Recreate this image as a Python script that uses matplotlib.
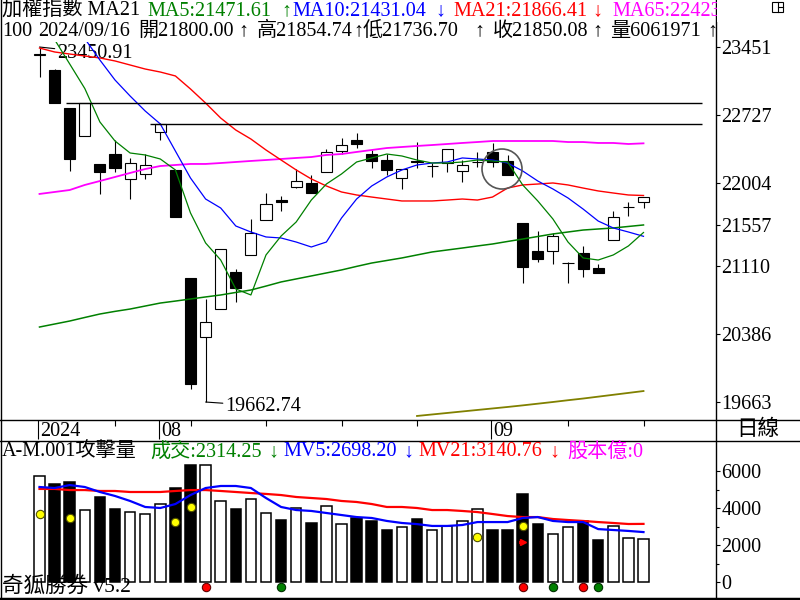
import matplotlib

matplotlib.use("Agg")
import matplotlib.pyplot as plt
import numpy as np
from matplotlib.patches import Ellipse, Rectangle

FONT = ["Liberation Serif", "Noto Sans CJK TC", "DejaVu Sans"]
plt.rcParams["font.family"] = FONT
FS = 14.5

# ---- TAIEX daily candles, 2024/07/11 .. 2024/09/16 (41 sessions) ----
opens = [23370, 23206, 22800, 22501, 22203, 22309, 22043, 22096, 22544, 22139,
         20986, 20357, 20655, 21050, 21232, 21605, 21815, 21957, 21999, 22117,
         22341, 22459, 22309, 22245, 22053, 22234, 22181, 22213, 22128, 22220,
         22331, 22234, 21573, 21274, 21274, 21144, 21253, 21093, 21392, 21742,
         21800.00]
highs = [23450.91, 23216, 22800, 22853, 22203, 22459, 22267, 22309, 22640, 22139,
         20986, 20762, 21300, 21082, 21616, 21893, 21861, 22149, 22085, 22363,
         22480, 22533, 22352, 22309, 22149, 22437, 22213, 22363, 22245, 22331,
         22427, 22299, 21573, 21488, 21466, 21157, 21328, 21136, 21701, 21797,
         21854.74]
lows = [23131, 22850, 22128, 22501, 21882, 22117, 21829, 22043, 22459, 21637,
        19802, 19662.74, 20655, 20730, 21232, 21605, 21701, 21946, 21893, 22117,
        22309, 22373, 22160, 22085, 21936, 22160, 22064, 22117, 22010, 22170,
        22170, 22085, 20933, 21157, 21136, 20933, 20997, 21040, 21392, 21648,
        21736.70]
closes = [23376, 22853, 22256, 22853, 22117, 22160, 22213, 22192, 22630, 21637,
          19855, 20517, 21296, 20879, 21466, 21776, 21801, 22021, 21893, 22331,
          22405, 22416, 22234, 22139, 22149, 22224, 22186, 22363, 22192, 22226,
          22224, 22085, 21104, 21189, 21434, 21148, 21082, 21040, 21637, 21746,
          21850.08]
shares = 6061971

ma5 = [23650, 23530, 23270, 23008, 22651, 22448, 22320, 22299, 22256, 22139,
       21680, 21360, 21178, 20869, 20805, 21232, 21434, 21584, 21818, 21989,
       22096, 22224, 22267, 22309, 22288, 22245, 22213, 22213, 22224, 22245,
       22234, 22224, 21979, 21808, 21616, 21370, 21200, 21178, 21232, 21328,
       21471.61]
ma10 = [np.nan, np.nan, np.nan, 23540, 23312, 23099, 22928, 22768, 22630, 22341,
        22053, 21829, 21733, 21541, 21477, 21424, 21413, 21370, 21317, 21370,
        21626, 21829, 21968, 22064, 22139, 22192, 22213, 22224, 22267, 22256,
        22245, 22213, 22128, 22021, 21936, 21840, 21722, 21594, 21520, 21477,
        21431.04]
ma21 = [23440, 23398, 23376, 23355, 23334, 23302, 23259, 23216, 23184, 23142,
        23003, 22853, 22693, 22565, 22469, 22352, 22245, 22139, 22043, 21968,
        21904, 21872, 21850, 21829, 21808, 21808, 21808, 21818, 21829, 21818,
        21850, 21946, 21979, 21989, 22000, 21979, 21946, 21915, 21893, 21872,
        21866.41]
ma65 = [21883, 21904, 21925, 21979, 22021, 22064, 22107, 22149, 22181, 22192,
        22203, 22203, 22213, 22224, 22235, 22245, 22256, 22267, 22277, 22299,
        22309, 22331, 22352, 22373, 22384, 22395, 22405, 22416, 22427, 22437,
        22448, 22448, 22448, 22448, 22448, 22437, 22437, 22427, 22427, 22416,
        22423]
ma_long = [20463, 20495, 20527, 20565, 20602, 20630, 20655, 20687, 20719, 20740,
           20762, 20784, 20805, 20832, 20858, 20900, 20944, 20976, 21008, 21040,
           21072, 21110, 21146, 21173, 21200, 21232, 21264, 21285, 21306, 21328,
           21349, 21376, 21402, 21429, 21456, 21477, 21498, 21509, 21520, 21536,
           21552]
ma_year = [np.nan] * 25 + [19514, 19530, 19546, 19562, 19578, 19594, 19610,
                           19627, 19645, 19663, 19682, 19700, 19720, 19740, 19760,
                           19780]
price_ticks = [23451, 22727, 22004, 21557, 21110, 20386, 19663]
level_values = [22853, 22630]
level_starts = [1.75, 7.3]

# ---- attack volume panel (unit: 億) ----
volume = [5730, 5300, 5400, 3890, 4590, 3950, 3780, 3680, 4220, 5080,
          6320, 6320, 4380, 3950, 4490, 3730, 3350, 4000, 3190, 4110,
          3130, 3460, 3300, 2810, 2970, 3410, 2810, 3030, 3300, 3950,
          2810, 2810, 4760, 3130, 2590, 2970, 3300, 2270, 3030, 2380,
          2314.25]
mv5 = [5135, 5080, 5240, 5135, 4865, 4650, 4380, 4055, 4000, 4215,
       4700, 5080, 5190, 5190, 5080, 4540, 4055, 3890, 3840, 3730,
       3620, 3510, 3460, 3300, 3190, 3130, 3030, 3030, 3080, 3240,
       3240, 3240, 3460, 3510, 3300, 3240, 3240, 2860, 2810, 2760,
       2698.20]
mv21 = [5030, 5030, 4970, 4970, 4920, 4920, 4865, 4865, 4865, 4920,
        4970, 4970, 4920, 4865, 4810, 4760, 4700, 4595, 4540, 4485,
        4380, 4325, 4215, 4055, 4055, 4000, 3890, 3890, 3840, 3780,
        3675, 3565, 3510, 3510, 3405, 3350, 3300, 3240, 3190, 3135,
        3140.76]
vol_ticks = [0, 2000, 4000, 6000]
yellow_idx = [0, 2, 9, 10, 29, 32]
yellow_val = [3675, 3460, 3240, 4055, 2430, 3030]
red_sig_idx = [11, 32, 36]
green_sig_idx = [16, 34, 37]
flag_idx, flag_val = 32, 2160

# date row: (candle index, label); short ticks every 5 sessions
date_marks = [(0, "2024"), (8, "08"), (30, "09")]
minor_dates = [5, 10, 15, 20, 25, 35, 40]

# ---- pixel layout of the 800x600 screen ----
W, H = 800, 600
X0_PX, DX_PX = 39.5, 15.1           # first candle centre, candle pitch
P_REF, P_REF_PX, P_K = 23451, 47, 355 / 3788
V_ZERO_PX, V_K = 582, 111 / 6000
SPLIT_X = 716


def price_at(py):
    return P_REF - (py - P_REF_PX) / P_K


def vol_at(py):
    return (V_ZERO_PX - py) / V_K


def rect(x0, y0, x1, y1):
    return [x0 / W, 1 - y1 / H, (x1 - x0) / W, (y1 - y0) / H]


XLIM = (-X0_PX / DX_PX, (SPLIT_X - X0_PX) / DX_PX)
GREEN, BLUE, RED, MAG = "#008000", "#0000ff", "#ff0000", "#ff00ff"

fig = plt.figure(figsize=(8, 6), dpi=100)
fig.patch.set_facecolor("white")

# ---- price panel ----
ax = fig.add_axes(rect(0, 42, SPLIT_X, 419))
ax.set_facecolor("none")
for sp in ax.spines.values():
    sp.set_visible(False)
ax.set_xlim(*XLIM)
ax.set_ylim(price_at(419), price_at(42))
ax.set_xticks([])
ax.yaxis.tick_right()
ax.set_yticks(price_ticks)
ax.set_yticklabels([str(t) for t in price_ticks])
ax.tick_params(axis="y", direction="out", length=3, width=0.8, pad=1, labelsize=FS)

idx = np.arange(len(closes))
o = np.array(opens)
c = np.array(closes)
up = c >= o
ax.vlines(idx, lows, highs, color="black", lw=0.8, zorder=2)
ax.bar(idx, np.abs(c - o), bottom=np.minimum(o, c), width=0.73,
       color=np.where(up, "white", "black"), edgecolor="black", lw=0.8, zorder=3)

ax.plot(idx, ma_long, color=GREEN, lw=1.1, zorder=4)
ax.plot(idx, ma_year, color="#808000", lw=1.3, zorder=4)
ax.plot(idx, ma65, color=MAG, lw=1.3, zorder=4)
ax.plot(idx, ma21, color=RED, lw=1.0, zorder=4)
ax.plot(idx, ma10, color=BLUE, lw=0.9, zorder=4)
ax.plot(idx, ma5, color=GREEN, lw=0.9, zorder=4)
ax.hlines(level_values, level_starts, 43.9, color="black", lw=1.0, zorder=4)

hi_i = int(np.argmax(highs))
lo_i = int(np.argmin(lows))
ax.annotate(f"{highs[hi_i]:.2f}", xy=(hi_i, highs[hi_i]), xytext=(18, -6),
            textcoords="offset pixels", fontsize=FS, va="center", ha="left",
            arrowprops=dict(arrowstyle="-", color="black", lw=0.8, shrinkA=0, shrinkB=0))
ax.annotate(f"{lows[lo_i]:.2f}", xy=(lo_i, lows[lo_i]), xytext=(20, -4),
            textcoords="offset pixels", fontsize=FS, va="center", ha="left",
            arrowprops=dict(arrowstyle="-", color="black", lw=0.8, shrinkA=0, shrinkB=0))
ax.add_patch(Ellipse((30.63, 22149), 40 / DX_PX, 40 / P_K, fill=False,
                     edgecolor="#555555", lw=1.2, zorder=5))

# ---- date strip ----
dx = fig.add_axes(rect(0, 420, SPLIT_X, 441))
dx.set_facecolor("none")
dx.axis("off")
dx.set_xlim(*XLIM)
dx.set_ylim(0, 1)
tr = dx.get_xaxis_transform()
for i, lab in date_marks:
    dx.vlines(i - 0.1, 0.1, 1, color="black", lw=0.8, transform=tr)
    dx.text(i + 0.05, 0.45, lab, fontsize=FS, va="center", ha="left", transform=tr)
dx.vlines(minor_dates, 0.72, 1, color="black", lw=0.8, transform=tr)

# ---- volume panel ----
vx = fig.add_axes(rect(0, 441, SPLIT_X, 597))
vx.set_facecolor("none")
for sp in vx.spines.values():
    sp.set_visible(False)
vx.set_xlim(*XLIM)
vx.set_ylim(vol_at(597), vol_at(441))
vx.set_xticks([])
vx.yaxis.tick_right()
vx.set_yticks(vol_ticks)
vx.set_yticklabels([str(t) for t in vol_ticks])
vx.set_yticks([1000, 3000, 5000], minor=True)
vx.tick_params(axis="y", which="major", direction="out", length=3, width=0.8, pad=1, labelsize=FS)
vx.tick_params(axis="y", which="minor", direction="out", length=2, width=0.8)

vx.bar(idx, volume, width=0.7, color=np.where(up, "white", "black"),
       edgecolor="black", lw=1.1, zorder=2)
vx.plot(idx, mv21, color=RED, lw=1.6, zorder=3)
vx.plot(idx, mv5, color=BLUE, lw=1.6, zorder=3)
vx.plot(yellow_idx, yellow_val, "o", ms=6, mfc="#ffff00", mec="#505000", mew=0.8, zorder=4)
sig_y = vol_at(587)
vx.plot(red_sig_idx, [sig_y] * len(red_sig_idx), "o", ms=6, mfc=RED, mec="#600000",
        mew=0.8, zorder=4, clip_on=False)
vx.plot(green_sig_idx, [sig_y] * len(green_sig_idx), "o", ms=6, mfc=GREEN, mec="#003000",
        mew=0.8, zorder=4, clip_on=False)
vx.vlines(flag_idx - 0.18, flag_val - 80, flag_val + 70, color=RED, lw=1.2, zorder=4)
vx.plot([flag_idx + 0.05], [flag_val + 20], marker=">", ms=5, color=RED, zorder=4)

# ---- overlay: frame, headers ----
bg = fig.add_axes([0, 0, 1, 1])
bg.set_xlim(0, W)
bg.set_ylim(H, 0)
bg.axis("off")

ln = dict(color="black", lw=1.0)
bg.plot([0.5, 0.5], [0, H], **ln)
bg.plot([SPLIT_X, SPLIT_X], [0, H], **ln)
bg.plot([0, W], [420, 420], **ln)
bg.plot([0, W], [441, 441], **ln)
bg.plot([0, W], [598.5, 598.5], color="black", lw=2.5)


def put(x, y, s, color="black", size=FS, **kw):
    bg.text(x, y, s, color=color, fontsize=size, va="center", ha="left", **kw)


# each header item: (x of text, text, x of arrow, arrow, colour)
row1 = [
    (147, f"MA5:{ma5[-1]:.2f}", 281, "↑", GREEN),
    (292, f"MA10:{ma10[-1]:.2f}", 435, "↓", BLUE),
    (453, f"MA21:{ma21[-1]:.2f}", 592, "↓", RED),
]
row2 = [
    (138, f"開{opens[-1]:.2f}", 238, "↑"),
    (257, f"高{highs[-1]:.2f}", 353, "↑"),
    (363, f"低{lows[-1]:.2f}", 474, "↑"),
    (493, f"收{closes[-1]:.2f}", 592, "↑"),
    (610, f"量{shares}", 707, "↑"),
]
vol_row = [
    (150, f"成交:{volume[-1]:.2f}", 268, "↓", GREEN),
    (283, f"MV5:{mv5[-1]:.2f}", 403, "↓", BLUE),
    (418, f"MV21:{mv21[-1]:.2f}", 549, "↓", RED),
]

put(2, 11, "加權指數 MA21")
for x, s, xa, a, col in row1:
    put(x, 11, s, col)
    put(xa, 11, a, col)
put(612, 11, f"MA65:{ma65[-1]}", MAG)
bg.add_patch(Rectangle((SPLIT_X + 0.5, 0), W - SPLIT_X - 1, 22, facecolor="white",
                       edgecolor="none", zorder=4))
bg.add_patch(Rectangle((772, 2), 11, 10, fill=False, edgecolor="black", lw=0.8, zorder=5))
bg.plot([777.5, 783], [7, 7], color="black", lw=0.8, zorder=5)
bg.plot([777.5, 777.5], [2, 12], color="black", lw=0.8, zorder=5)

put(2, 31, "100")
put(38, 31, "2024/09/16")
for x, s, xa, a in row2:
    put(x, 31, s)
    put(xa, 31, a)

put(2, 452, "A-M.001攻擊量")
for x, s, xa, a, col in vol_row:
    put(x, 452, s, col)
    put(xa, 452, a, col)
put(567, 452, "股本億:0", MAG)
put(2, 586, "奇狐勝券 v5.2", size=15.5)
bg.text(758, 430, "日線", fontsize=15.5, va="center", ha="center")

fig.savefig("out.png", dpi=100, facecolor="white")
